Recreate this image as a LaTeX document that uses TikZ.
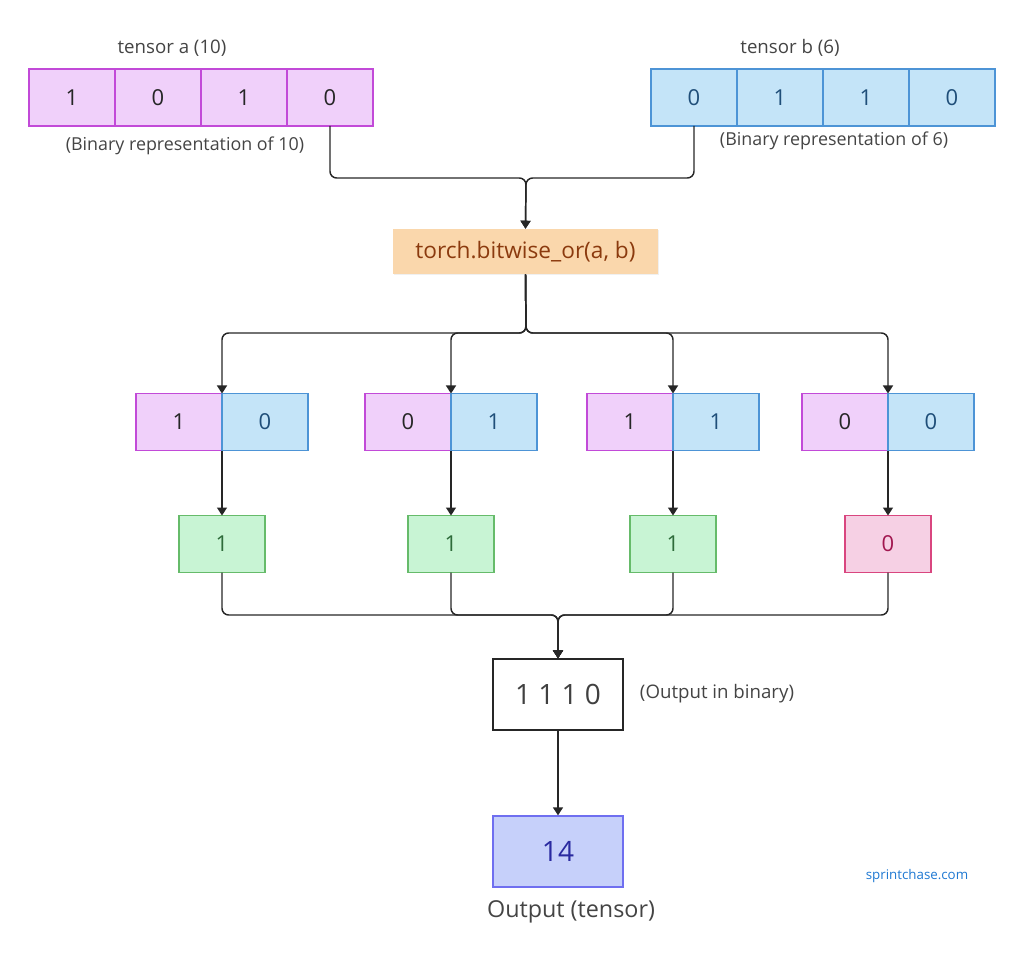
\documentclass[tikz,border=0pt]{standalone}
\usepackage{fontspec}
\setmainfont{Open Sans}
\usetikzlibrary{arrows.meta,shadows}

\definecolor{afill}{HTML}{F0D0FA}
\definecolor{aline}{HTML}{C24AD8}
\definecolor{bfill}{HTML}{C4E4F8}
\definecolor{bline}{HTML}{4D94D6}
\definecolor{btext}{HTML}{1F4E79}
\definecolor{okfill}{HTML}{C8F4D4}
\definecolor{okline}{HTML}{66BB6A}
\definecolor{oktext}{HTML}{2E6B3A}
\definecolor{zfill}{HTML}{F6D0E4}
\definecolor{zline}{HTML}{D9467F}
\definecolor{ztext}{HTML}{A1164F}
\definecolor{opfill}{HTML}{FAD7AC}
\definecolor{optext}{HTML}{8B3A0E}
\definecolor{resfill}{HTML}{C6D0FA}
\definecolor{resline}{HTML}{6F6FF0}
\definecolor{restext}{HTML}{2A2AA0}
\definecolor{ink}{HTML}{444444}

\tikzset{
  cell/.style={minimum width=64.5pt, minimum height=42.75pt, inner sep=0pt,
    outer sep=0pt, line width=1pt, font=\fontsize{16.5}{18}\selectfont},
  acell/.style={cell, draw=aline, fill=afill, text=black!85},
  bcell/.style={cell, draw=bline, fill=bfill, text=btext},
  okbox/.style={cell, draw=okline, fill=okfill, text=oktext},
  zerobox/.style={cell, draw=zline, fill=zfill, text=ztext},
  lbl/.style={text=ink, font=\fontsize{14}{16}\selectfont},
  note/.style={text=ink, font=\fontsize{13.4}{15}\selectfont},
  wire/.style={draw=black!85, line width=1.1pt, rounded corners=5pt},
  ->/.style={-{Triangle[width=7.5pt,length=6pt]}},
}

\begin{document}
\begin{tikzpicture}[x=0.75pt,y=-0.75pt]
    \useasboundingbox (0,0) rectangle (1024,962);

    % tensor a (left) and tensor b (right)
    \foreach \v [count=\i] in {1,0,1,0} \node[acell] (a\i) at ({-14+86*\i}, 97.5) {\v};
    \foreach \v [count=\i] in {0,1,1,0} \node[bcell] (b\i) at ({608+86*\i}, 97.5) {\v};
    \node[lbl] (alabel) at (172,48) {tensor a (10)};
    \node[note] (anote) at (185,146) {(Binary representation of 10)};
    \node[lbl] (blabel) at (790,48) {tensor b (6)};
    \node[note] (bnote) at (834,141) {(Binary representation of 6)};

    % the operation
    \node[fill=opfill, text=optext, minimum width=198.75pt, minimum height=33.75pt,
      inner sep=0pt, font=\fontsize{17}{19}\selectfont,
      drop shadow={opacity=0.12, shadow xshift=1pt, shadow yshift=-1pt}]
      (op) at (525.5,251.5) {torch.bitwise\_or(a, b)};

    \coordinate (jin) at (526,178);
    \coordinate (jsplit) at (526,333);
    \coordinate (jout) at (558,615);

    % bit pairs and their results
    \foreach \x/\l/\r [count=\i] in {222/1/0, 451/0/1, 673/1/1, 888/0/0} {
        \node[acell] (pl\i) at (\x-43,422) {\l};
        \node[bcell] (pr\i) at (\x+43,422) {\r};
    }
    \foreach \x/\v/\s [count=\i] in {222/1/okbox, 451/1/okbox, 673/1/okbox, 888/0/zerobox}
        \node[\s] (r\i) at (\x,544) {\v};

    % output
    \node[draw=black!85, fill=white, line width=1pt, minimum width=97.5pt, minimum height=53.25pt,
      text=black!75, font=\fontsize{21}{23}\selectfont] (bin) at (558,694.5) {1 1 1 0};
    \node[lbl] (binnote) at (717,694) {(Output in binary)};
    \node[draw=resline, fill=resfill, line width=1pt, minimum width=97.5pt, minimum height=53.25pt,
      text=restext, font=\fontsize{21}{23}\selectfont] (res) at (558,851.5) {14};
    \node[text=ink, font=\fontsize{17.5}{19}\selectfont] (reslabel) at (571,912) {Output (tensor)};
    \node[text={rgb,255:red,30;green,120;blue,210}, font=\fontsize{10}{12}\selectfont]
      (site) at (917,876) {sprintchase.com};

    % connectors
    \draw[wire,->] (a4.south) |- (jin) -- (op.north);
    \draw[wire,->] (b1.south) |- (jin) -- (op.north);
    \foreach \i in {1,...,4} {
        \draw[wire,->] (op.south) -- (jsplit) -| (pl\i.north east);
        \draw[wire,->] (pl\i.south east) -- (r\i.north);
        \draw[wire,->] (r\i.south) |- (jout) -- (bin.north);
    }
    \draw[wire,->] (bin) -- (res);
\end{tikzpicture}
\end{document}
